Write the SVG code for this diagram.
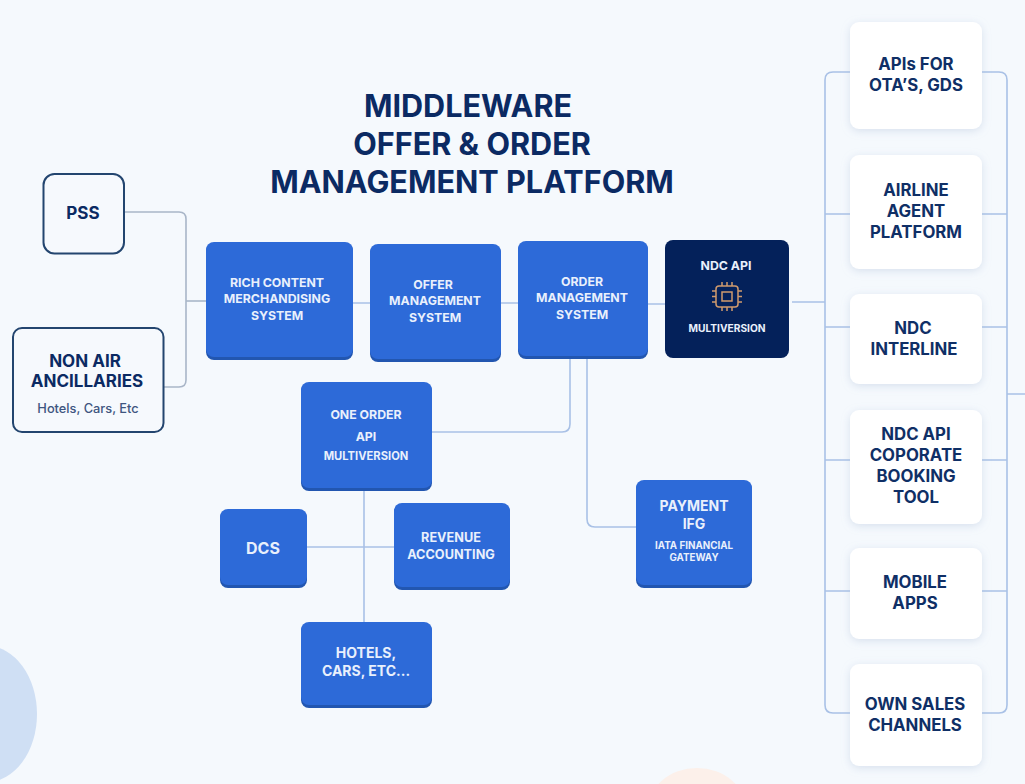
<svg xmlns="http://www.w3.org/2000/svg" width="1025" height="784" viewBox="0 0 1025 784">
<defs>
<filter id="sh" x="-20%" y="-20%" width="140%" height="140%"><feDropShadow dx="0" dy="2" stdDeviation="4" flood-color="#9fb3d2" flood-opacity="0.35"/></filter>
</defs>
<style>
text{font-family:Inter,"Liberation Sans",sans-serif;text-anchor:middle;font-weight:700}
.b rect.m{fill:#2d6ad8}
.b rect.s{fill:#2256b0}
.b text{fill:#e9f0fc;font-size:12.3px;font-weight:700}
.w rect{fill:#fff;filter:url(#sh)}
.w text{fill:#0f2f66;font-size:16.8px;font-weight:700}
.o rect{fill:#f6f9fd;stroke:#23456f;stroke-width:2}
.o text{fill:#0b2a63}
.o text.sub{fill:#3e5580;font-weight:500}
.c path{fill:none;stroke:#a9c1e6;stroke-width:1.6}
.c path.g{stroke:#a9b6c8;stroke-width:1.6}
.t text{fill:#0b2a63;font-size:30.6px;font-weight:700}
</style>
<rect width="1025" height="784" fill="#f5f9fd"/>
<g id="decor">
<ellipse cx="-13" cy="714" rx="50" ry="68" fill="#cfdff4"/>
<ellipse cx="697" cy="812" rx="50" ry="44" fill="#fcf0ea"/>
</g>
<g id="title" class="t">
<text x="468" y="117">MIDDLEWARE</text>
<text x="472" y="155">OFFER &amp; ORDER</text>
<text x="472" y="193">MANAGEMENT PLATFORM</text>
</g>
<g id="connectors" class="c">
<path class="g" d="M125 212H179Q186 212 186 219V380Q186 387 179 387H164"/>
<path class="g" d="M186 301H206"/>
<path d="M352 303H370M500 303H518M647 304H665M792 302H825"/>
<path d="M570 358V424Q570 432 562 432H431"/>
<path d="M587 358V519Q587 527 595 527H636"/>
<path d="M364 490V622M307 547H394"/>
<path d="M850 72H833Q825 72 825 80V705Q825 713 833 713H850"/>
<path d="M825 214H850M825 327H850M825 460H850M825 591H850"/>
<path d="M982 72H999Q1007 72 1007 80V705Q1007 713 999 713H982"/>
<path d="M982 214H1007M982 327H1007M982 460H1007M982 591H1007M1007 394H1025"/>
</g>
<g id="pss" class="o"><rect x="43.500" y="174" width="80.500" height="79.500" rx="11"/><text x="83" y="219" font-size="17">PSS</text></g>
<g id="non-air" class="o"><rect x="13" y="328" width="150.500" height="104" rx="9"/><text x="85" y="367" font-size="17">NON AIR</text><text x="87" y="387" font-size="17">ANCILLARIES</text><text class="sub" x="88" y="413" font-size="12.800">Hotels, Cars, Etc</text></g>
<g id="rich" class="b"><rect class="s" x="206" y="243" width="147" height="117" rx="8"/><rect class="m" x="206" y="242" width="147" height="115" rx="8"/><text x="277" y="287">RICH CONTENT</text><text x="277" y="303">MERCHANDISING</text><text x="277" y="320">SYSTEM</text></g>
<g id="offer" class="b"><rect class="s" x="370" y="245" width="131" height="117" rx="8"/><rect class="m" x="370" y="244" width="131" height="115" rx="8"/><text x="433" y="289">OFFER</text><text x="435" y="305">MANAGEMENT</text><text x="435" y="322">SYSTEM</text></g>
<g id="order" class="b"><rect class="s" x="518" y="242" width="130" height="117" rx="8"/><rect class="m" x="518" y="241" width="130" height="115" rx="8"/><text x="582" y="286">ORDER</text><text x="582" y="302">MANAGEMENT</text><text x="582" y="319">SYSTEM</text></g>
<g id="ndc-api" class="b"><rect x="665" y="240" width="124" height="118" rx="8" fill="#04215a"/><text x="726" y="270">NDC API</text><text x="727" y="332" style="font-size:10.200px">MULTIVERSION</text>
<g fill="none" stroke="#cf9a6e" stroke-width="1.500"><rect x="716" y="286" width="22" height="21" rx="3"/><rect x="722" y="292" width="10" height="9"/><path d="M722 282V286M727 282V286M732 282V286M722 307V311M727 307V311M732 307V311M712 291H716M712 296.500H716M712 302H716M738 291H742M738 296.500H742M738 302H742"/></g></g>
<g id="one-order" class="b"><rect class="s" x="301" y="383" width="131" height="108" rx="8"/><rect class="m" x="301" y="382" width="131" height="106" rx="8"/><text x="366" y="419">ONE ORDER</text><text x="366" y="441">API</text><text x="366" y="460" style="font-size:11.200px">MULTIVERSION</text></g>
<g id="dcs" class="b"><rect class="s" x="220" y="510" width="87" height="78" rx="8"/><rect class="m" x="220" y="509" width="87" height="76" rx="8"/><text x="263" y="554" style="font-size:16px">DCS</text></g>
<g id="revenue" class="b"><rect class="s" x="394" y="504" width="116" height="86" rx="8"/><rect class="m" x="394" y="503" width="116" height="84" rx="8"/><text x="451" y="542" style="font-size:12.700px">REVENUE</text><text x="451" y="559" style="font-size:12.700px">ACCOUNTING</text></g>
<g id="payment" class="b"><rect class="s" x="636" y="481" width="116" height="107" rx="8"/><rect class="m" x="636" y="480" width="116" height="105" rx="8"/><text x="694" y="511" style="font-size:14px">PAYMENT</text><text x="694" y="529" style="font-size:14px">IFG</text><text x="694" y="549" style="font-size:9.800px">IATA FINANCIAL</text><text x="694" y="561" style="font-size:9.800px">GATEWAY</text></g>
<g id="hotels" class="b"><rect class="s" x="301" y="623" width="131" height="85" rx="8"/><rect class="m" x="301" y="622" width="131" height="83" rx="8"/><text x="366" y="658" style="font-size:14px">HOTELS,</text><text x="366" y="676" style="font-size:14px">CARS, ETC...</text></g>
<g id="apis" class="w"><rect x="850" y="22" width="132" height="107" rx="9"/><text x="916" y="70">APIs FOR</text><text x="916" y="91">OTA’S, GDS</text></g>
<g id="agent" class="w"><rect x="850" y="155" width="132" height="114" rx="9"/><text x="916" y="196">AIRLINE</text><text x="916" y="217">AGENT</text><text x="916" y="238">PLATFORM</text></g>
<g id="interline" class="w"><rect x="850" y="294" width="132" height="90" rx="9"/><text x="913" y="334">NDC</text><text x="914" y="355">INTERLINE</text></g>
<g id="corporate" class="w"><rect x="850" y="410" width="132" height="114" rx="9"/><text x="916" y="440">NDC API</text><text x="916" y="461">COPORATE</text><text x="916" y="482">BOOKING</text><text x="916" y="503">TOOL</text></g>
<g id="mobile" class="w"><rect x="850" y="548" width="132" height="91" rx="9"/><text x="915" y="588">MOBILE</text><text x="915" y="609">APPS</text></g>
<g id="own-sales" class="w"><rect x="850" y="664" width="132" height="102" rx="9"/><text x="915" y="710">OWN SALES</text><text x="915" y="731">CHANNELS</text></g>
</svg>
